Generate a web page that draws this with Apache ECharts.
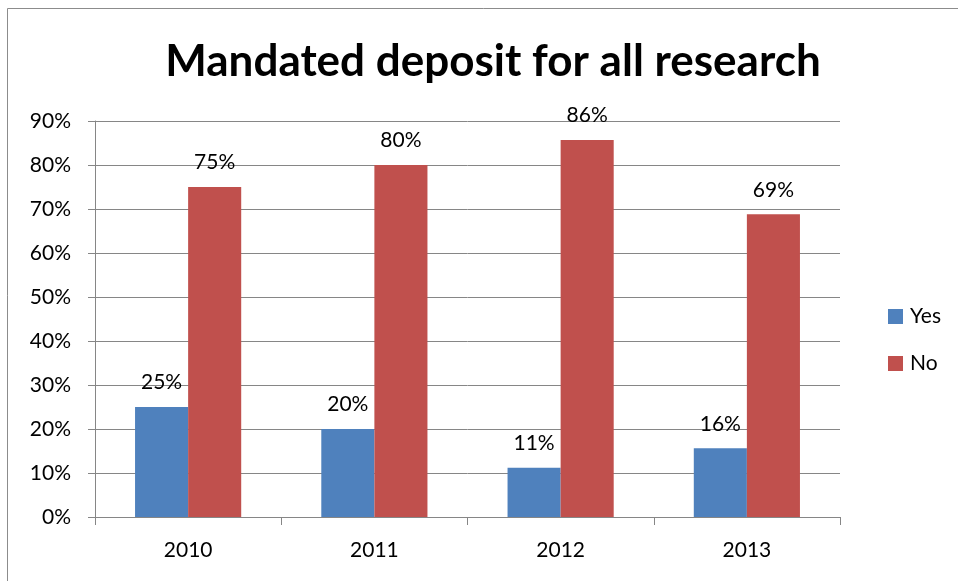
<!DOCTYPE html>
<html>
<head>
<meta charset="utf-8">
<script src="https://cdn.jsdelivr.net/npm/echarts@6/dist/echarts.min.js"></script>
<style>
  html, body { margin: 0; padding: 0; background: #fff; }
  #chart { width: 958px; height: 581px; }
</style>
</head>
<body>
<div id="chart"></div>
<script>
// Survey results: share of respondents with a mandated deposit policy
const years = ['2010', '2011', '2012', '2013'];
const yesValues = [25, 20, 11.2, 15.6];
const noValues = [75, 80, 85.7, 68.8];
const yTicks = [0, 10, 20, 30, 40, 50, 60, 70, 80, 90];

const FONT = 'Lato, "Open Sans", sans-serif';
const AXIS_GRAY = '#868686';

const chart = echarts.init(document.getElementById('chart'));

const pctLabel = {
  show: true,
  position: 'top',
  distance: 14,
  color: '#000',
  fontFamily: FONT,
  fontSize: 21,
  formatter: p => Math.round(p.value) + '%'
};

chart.setOption({
  animation: false,
  backgroundColor: '#fff',
  title: {
    text: 'Mandated deposit for all research',
    left: 488,
    textAlign: 'center',
    top: 35,
    textStyle: { fontFamily: FONT, fontSize: 44, fontWeight: 'bold', color: '#000' }
  },
  graphic: [{
    type: 'rect',
    shape: { x: 7.5, y: 8.5, width: 1200, height: 1200 },
    style: { fill: 'none', stroke: '#8c8c8c', lineWidth: 1 },
    silent: true
  }],
  legend: {
    orient: 'vertical',
    left: 883,
    top: 301,
    itemWidth: 15,
    itemHeight: 15,
    itemGap: 26,
    icon: 'rect',
    textStyle: { fontFamily: FONT, fontSize: 21, color: '#000', padding: [0, 0, 0, 2] },
    data: ['Yes', 'No']
  },
  grid: { left: 95, right: 118, top: 121, bottom: 64, containLabel: false },
  xAxis: {
    type: 'category',
    data: years,
    axisLine: { lineStyle: { color: AXIS_GRAY, width: 1 } },
    axisTick: { show: true, length: 8, lineStyle: { color: AXIS_GRAY } },
    axisLabel: { color: '#000', fontFamily: FONT, fontSize: 21, margin: 23 }
  },
  yAxis: {
    type: 'value',
    min: yTicks[0],
    max: yTicks[yTicks.length - 1],
    interval: yTicks[1] - yTicks[0],
    axisLine: { show: true, lineStyle: { color: AXIS_GRAY, width: 1 } },
    axisTick: { show: true, length: 7, lineStyle: { color: AXIS_GRAY } },
    axisLabel: { color: '#000', fontFamily: FONT, fontSize: 21, margin: 24, formatter: v => v + '%' },
    splitLine: { show: true, lineStyle: { color: AXIS_GRAY, width: 1 } }
  },
  series: [
    {
      name: 'Yes',
      type: 'bar',
      data: yesValues,
      barGap: '0%',
      barCategoryGap: '43%',
      itemStyle: { color: '#4F81BD' },
      label: pctLabel
    },
    {
      name: 'No',
      type: 'bar',
      data: noValues,
      barGap: '0%',
      barCategoryGap: '43%',
      itemStyle: { color: '#C0504D' },
      label: pctLabel
    }
  ]
});
</script>
</body>
</html>
